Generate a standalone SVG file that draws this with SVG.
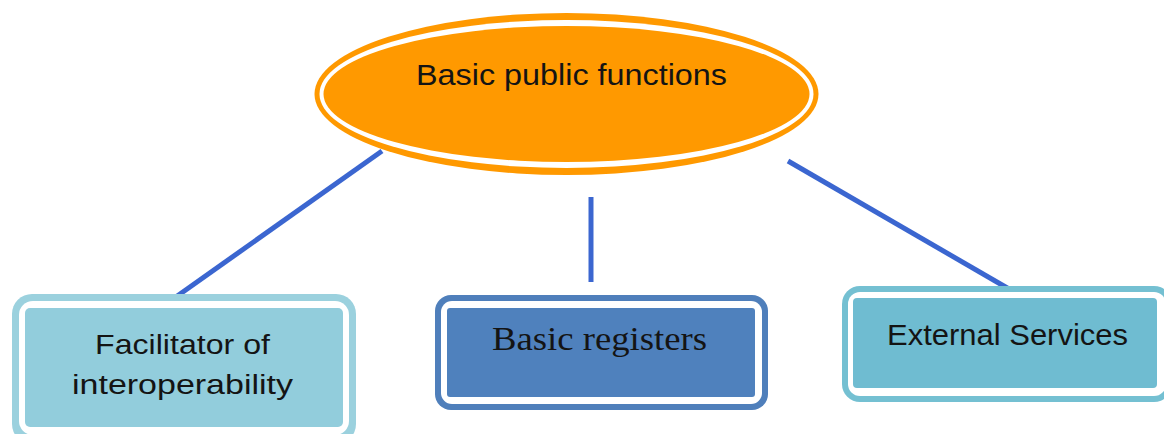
<svg xmlns="http://www.w3.org/2000/svg" width="1164" height="434" viewBox="0 0 1164 434">
  <style>
    .link { stroke: #3b66d0; stroke-width: 5; stroke-linecap: butt; fill: none; }
    .gap { fill: #ffffff; }
    .sans { font-family: "Liberation Sans", Arial, sans-serif; fill: #141414; text-anchor: start; }
    .serif { font-family: "Liberation Serif", "Times New Roman", serif; fill: #141414; }
  </style>

  <rect width="1164" height="434" fill="#ffffff"/>

  <!-- connectors from the central ellipse down to the three boxes -->
  <g id="connectors">
    <line class="link" x1="382" y1="151" x2="173" y2="299"/>
    <line class="link" x1="591" y1="197" x2="591" y2="282"/>
    <line class="link" x1="788" y1="161" x2="1009" y2="289"/>
  </g>

  <!-- central ellipse with double orange rim -->
  <g id="basic-public-functions">
    <ellipse cx="566.5" cy="94" rx="252" ry="81" fill="#ff9900"/>
    <ellipse class="gap" cx="566.5" cy="94" rx="247" ry="74"/>
    <ellipse cx="566.5" cy="94" rx="243" ry="68" fill="#ff9900"/>
    <text class="sans" x="416" y="85" font-size="30" textLength="311" lengthAdjust="spacingAndGlyphs">Basic public functions</text>
  </g>

  <!-- left box -->
  <g id="facilitator">
    <rect x="12" y="294" width="344" height="150" rx="20" fill="#9bd1de"/>
    <rect class="gap" x="19" y="301" width="330" height="134" rx="14"/>
    <rect x="25" y="308" width="318" height="119" rx="5" fill="#92cddc"/>
    <text class="sans" x="95" y="354" font-size="27.5" textLength="175" lengthAdjust="spacingAndGlyphs">Facilitator of</text>
    <text class="sans" x="72" y="394" font-size="27.5" textLength="221" lengthAdjust="spacingAndGlyphs">interoperability</text>
  </g>

  <!-- middle box -->
  <g id="basic-registers">
    <rect x="435" y="295" width="333" height="115" rx="16" fill="#4f7fbb"/>
    <rect class="gap" x="441" y="301" width="321" height="103" rx="11"/>
    <rect x="447" y="308" width="308" height="89" rx="3" fill="#4f81bd"/>
    <text class="serif" x="492" y="350" font-size="33" textLength="215" lengthAdjust="spacingAndGlyphs">Basic registers</text>
  </g>

  <!-- right box -->
  <g id="external-services">
    <rect x="842" y="286" width="330" height="116" rx="18" fill="#74c0d2"/>
    <rect class="gap" x="848" y="292" width="318" height="104" rx="12"/>
    <rect x="853" y="298" width="304" height="90" rx="4" fill="#6fbcd1"/>
    <text class="sans" x="887" y="345" font-size="30" textLength="241" lengthAdjust="spacingAndGlyphs">External Services</text>
  </g>
</svg>
